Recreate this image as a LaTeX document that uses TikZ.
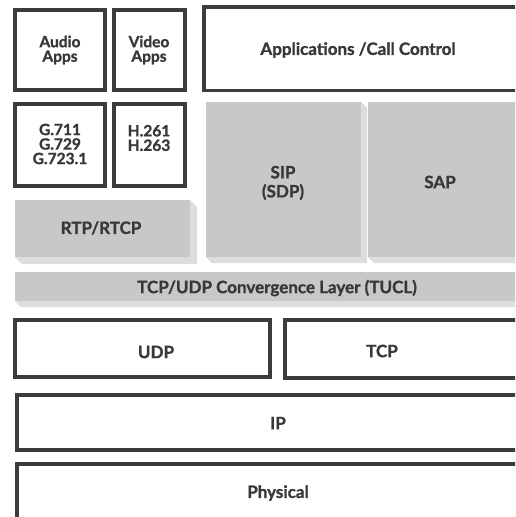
\documentclass[tikz,border=0pt]{standalone}
\usepackage{fontspec}
\setmainfont{Lato}[BoldFeatures={FakeBold=1.2}]
\definecolor{edge}{HTML}{3C3C3C}
\definecolor{txt}{HTML}{383838}
\definecolor{face}{HTML}{C8C8C8}
\definecolor{side}{HTML}{DDDDDD}
\tikzset{
  box/.style={draw=edge, line width=3.4pt, fill=white},
  lab/.style={text=txt, font=\bfseries\fontsize{17}{19}\selectfont, align=center, inner sep=0pt},
  smalllab/.style={text=txt, font=\bfseries\fontsize{15.5}{14.5}\selectfont, align=center, inner sep=0pt},
  face/.style={fill=face},
  side/.style={fill=side}
}
\begin{document}
\begin{tikzpicture}[x=1pt,y=-1pt]
\useasboundingbox (0,0) rectangle (515,517);
\fill[white] (0,0) rectangle (515,517);
\begin{scope}
\clip (0,0) rectangle (515,517);
% top row
\draw[box] (15,10) rectangle (105,90);
\draw[box] (114,10) rectangle (185,90);
\draw[box] (204,7) rectangle (530,90.5);
% codec row
\draw[box] (15,104) rectangle (105,186);
\draw[box] (114,104) rectangle (185,186);
% SIP
\fill[side] (206,102) -- (361,102) -- (367,108) -- (367,263) -- (212,263) -- (206,257) -- cycle;
\fill[face] (206,102) rectangle (361,257);
% SAP
\fill[side] (368,102) -- (530,102) -- (530,263) -- (374,263) -- (368,257) -- cycle;
\fill[face] (368,102) rectangle (530,257);
% RTP
\fill[side] (15,200) -- (190,200) -- (197,207) -- (197,264) -- (22,264) -- (15,257) -- cycle;
\fill[face] (15,200) rectangle (190,257);
% TUCL
\fill[side] (15,272) -- (530,272) -- (530,307) -- (21,307) -- (15,301) -- cycle;
\fill[face] (15,272) rectangle (530,301);
% lower layers
\draw[box] (15,320) rectangle (270,377);
\draw[box] (285,320) rectangle (530,378);
\draw[box] (17,395) rectangle (530,450);
\draw[box] (17,464) rectangle (530,540);
\end{scope}
% labels
\node[smalllab] (audio) at (60,50) {Audio\\Apps};
\node[smalllab] (video) at (149,50) {Video\\Apps};
\node[lab] (apps) at (358,50) {Applications /Call Control};
\node[smalllab] (g7) at (60,144) {G.711\\G.729\\G.723.1};
\node[smalllab] (h26) at (149,138) {H.261\\H.263};
\node[lab] (sip) at (283,183) {SIP\\(SDP)};
\node[lab] (sap) at (440,182) {SAP};
\node[lab] (rtp) at (101,228) {RTP/RTCP};
\node[lab] (tucl) at (277,288) {TCP/UDP Convergence Layer (TUCL)};
\node[lab] (udp) at (156,352) {UDP};
\node[lab] (tcp) at (382,351) {TCP};
\node[lab] (ip) at (278,423) {IP};
\node[lab] (phys) at (278,493) {Physical};
\end{tikzpicture}
\end{document}
